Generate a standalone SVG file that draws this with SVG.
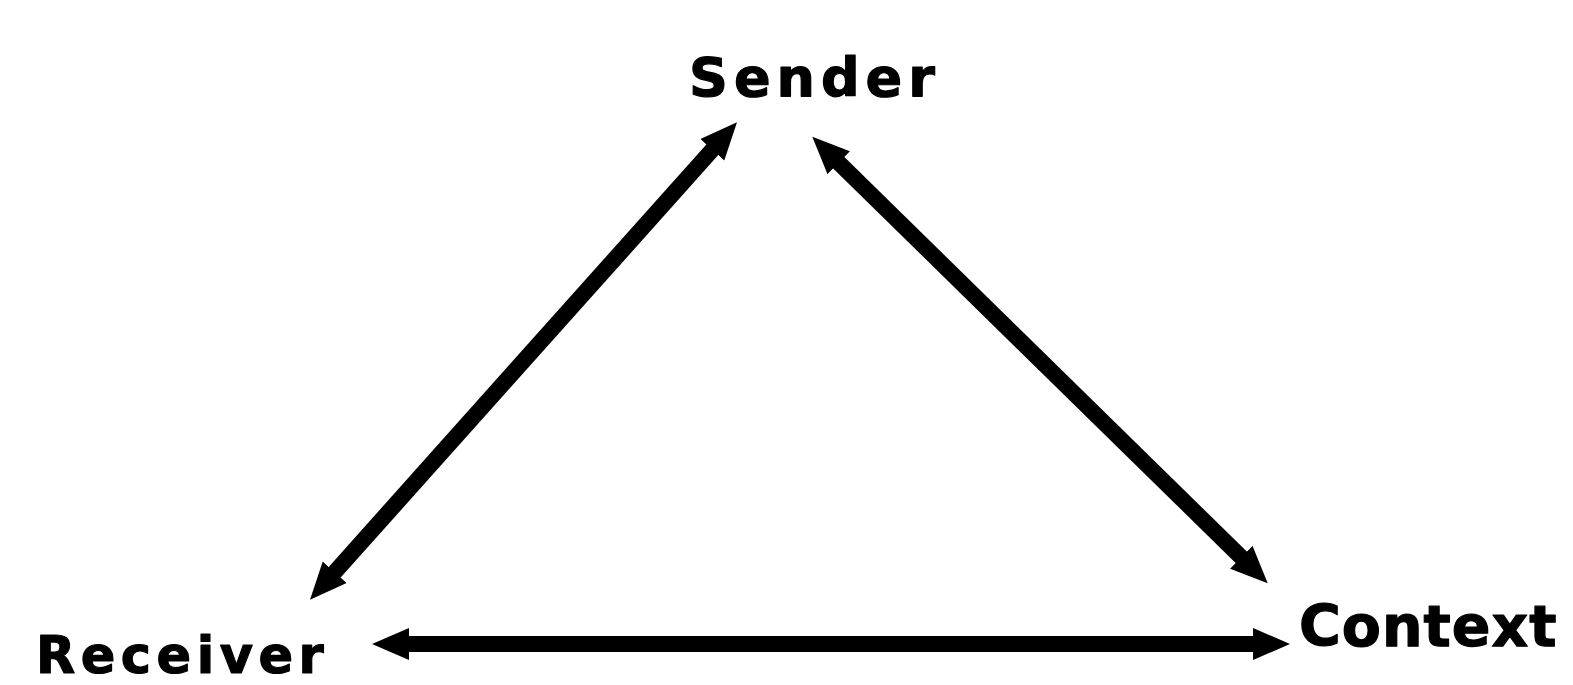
<svg xmlns="http://www.w3.org/2000/svg" width="1573" height="685" viewBox="0 0 1573 685">
<style>
.lbl{font-family:"DejaVu Sans","Liberation Sans",sans-serif;font-weight:bold;fill:#000;stroke:#000;stroke-width:1.2;stroke-linejoin:round}
.con{stroke:#000;stroke-width:16;fill:none}
</style>
<defs>
<marker id="ah" markerUnits="userSpaceOnUse" markerWidth="40" markerHeight="40" viewBox="0 0 40 40" refX="1" refY="20" orient="auto-start-reverse">
<path d="M0,4 L37,20 L0,36 z" fill="#000"/>
</marker>
</defs>
<rect width="1573" height="685" fill="#fff"/>
<g id="sender"><text class="lbl" x="689" y="96" font-size="54" letter-spacing="6">Sender</text></g>
<g id="receiver"><text class="lbl" x="36" y="673" font-size="51" letter-spacing="5.5">Receiver</text></g>
<g id="context"><text class="lbl" x="1299" y="646" font-size="57" letter-spacing="1">Context</text></g>
<g id="connectors">
<line class="con" x1="334" y1="573" x2="713" y2="149" marker-start="url(#ah)" marker-end="url(#ah)"/>
<line class="con" x1="838" y1="162" x2="1242" y2="558" marker-start="url(#ah)" marker-end="url(#ah)"/>
<line class="con" x1="408" y1="644" x2="1254" y2="644" marker-start="url(#ah)" marker-end="url(#ah)"/>
</g>
</svg>
